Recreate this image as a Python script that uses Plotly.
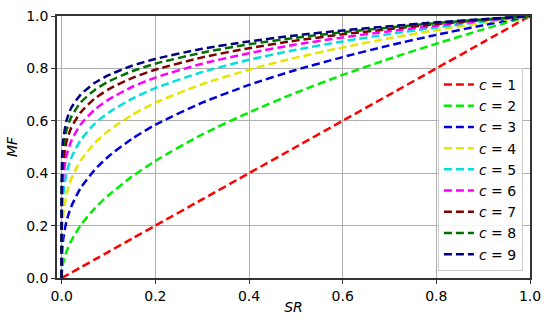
import plotly.graph_objects as go

SR = [0, 0.0001, 0.001, 0.003, 0.01, 0.02, 0.04, 0.07, 0.1, 0.15, 0.2, 0.3, 0.4, 0.5, 0.6, 0.7, 0.8, 0.9, 1.0]

MF_c1 = [0, 0.0001, 0.001, 0.003, 0.01, 0.02, 0.04, 0.07, 0.1, 0.15, 0.2, 0.3, 0.4, 0.5, 0.6, 0.7, 0.8, 0.9, 1.0]
MF_c2 = [0, 0.010, 0.032, 0.055, 0.100, 0.141, 0.200, 0.265, 0.316, 0.387, 0.447, 0.548, 0.632, 0.707, 0.775, 0.837, 0.894, 0.949, 1.0]
MF_c3 = [0, 0.046, 0.100, 0.144, 0.215, 0.271, 0.342, 0.412, 0.464, 0.531, 0.585, 0.669, 0.737, 0.794, 0.843, 0.888, 0.928, 0.965, 1.0]
MF_c4 = [0, 0.100, 0.178, 0.234, 0.316, 0.376, 0.447, 0.514, 0.562, 0.622, 0.669, 0.740, 0.795, 0.841, 0.880, 0.915, 0.946, 0.974, 1.0]
MF_c5 = [0, 0.158, 0.251, 0.313, 0.398, 0.457, 0.525, 0.588, 0.631, 0.684, 0.725, 0.786, 0.833, 0.871, 0.903, 0.931, 0.956, 0.979, 1.0]
MF_c6 = [0, 0.215, 0.316, 0.380, 0.464, 0.521, 0.585, 0.642, 0.681, 0.729, 0.765, 0.818, 0.858, 0.891, 0.918, 0.942, 0.963, 0.983, 1.0]
MF_c7 = [0, 0.268, 0.373, 0.436, 0.518, 0.572, 0.631, 0.684, 0.720, 0.763, 0.795, 0.842, 0.877, 0.906, 0.930, 0.950, 0.969, 0.985, 1.0]
MF_c8 = [0, 0.316, 0.422, 0.484, 0.562, 0.613, 0.669, 0.717, 0.750, 0.789, 0.818, 0.860, 0.892, 0.917, 0.938, 0.956, 0.973, 0.987, 1.0]
MF_c9 = [0, 0.359, 0.464, 0.524, 0.599, 0.648, 0.699, 0.744, 0.774, 0.810, 0.836, 0.875, 0.903, 0.926, 0.945, 0.961, 0.976, 0.988, 1.0]

labels = ["1", "2", "3", "4", "5", "6", "7", "8", "9"]
series = [MF_c1, MF_c2, MF_c3, MF_c4, MF_c5, MF_c6, MF_c7, MF_c8, MF_c9]
colors = ["#ff0000", "#00ee00", "#0000dd", "#e6e600", "#00e0e0", "#ff00ff", "#800000", "#007000", "#000080"]

x_ticks = [0.0, 0.2, 0.4, 0.6, 0.8, 1.0]
y_ticks = [0.0, 0.2, 0.4, 0.6, 0.8, 1.0]

FONT = "DejaVu Sans"

fig = go.Figure()
for lab, ys, col in zip(labels, series, colors):
    fig.add_trace(go.Scatter(
        x=SR, y=ys, mode="lines", name="<i>c</i> = " + lab,
        line=dict(color=col, width=2.5, dash="8px,4px", shape="spline", smoothing=0.6),
    ))

axis_common = dict(
    showgrid=True, gridcolor="#b0b0b0", gridwidth=1,
    showline=True, linecolor="#333333", linewidth=1.5, mirror=True,
    ticks="outside", ticklen=4, tickcolor="#333333", tickwidth=1,
    zeroline=False, tickfont=dict(family=FONT, size=14, color="black"),
    automargin=False,
)

fig.update_xaxes(range=[-0.01, 1.0], tickvals=x_ticks, ticktext=[f"{v:.1f}" for v in x_ticks],
                 title=dict(text="<i>SR</i>", font=dict(family=FONT, size=14, color="black"), standoff=0),
                 **axis_common)
fig.update_yaxes(range=[0, 1.0], tickvals=y_ticks, ticktext=[f"{v:.1f}" for v in y_ticks],
                 **axis_common)

fig.add_annotation(text="<i>MF</i>", xref="paper", yref="paper", x=-0.095, y=0.5,
                   textangle=-90, showarrow=False, xanchor="center", yanchor="middle",
                   font=dict(family=FONT, size=14, color="black"))

fig.update_layout(
    width=550, height=327,
    margin=dict(l=57, r=20, t=16, b=49),
    paper_bgcolor="white", plot_bgcolor="white",
    font=dict(family=FONT, size=14, color="black"),
    legend=dict(x=0.985, y=0.027, xanchor="right", yanchor="bottom",
                bgcolor="rgba(255,255,255,0.85)", bordercolor="#cccccc", borderwidth=1,
                font=dict(family=FONT, size=14), tracegroupgap=0, itemwidth=30),
    showlegend=True,
)

fig.write_html("out.html", config={"displayModeBar": False},
               post_script="document.body.style.margin='0';")
